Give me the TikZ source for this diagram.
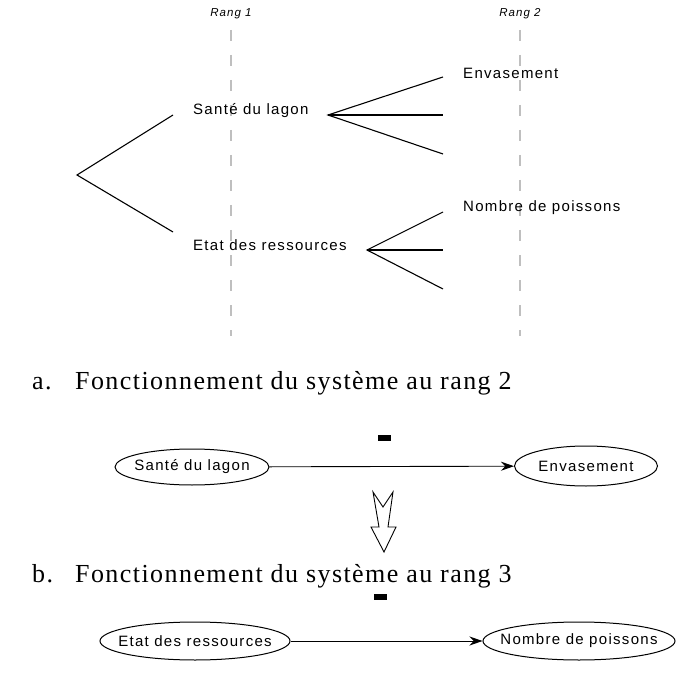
\documentclass[tikz,border=0pt]{standalone}
\usepackage{fontspec}
\usetikzlibrary{shapes.geometric,arrows.meta}
\newfontfamily\labfont[LetterSpace=8.7]{Liberation Sans}
\newfontfamily\rangfont[LetterSpace=9]{Liberation Sans}
\newfontfamily\capfont[LetterSpace=5.5]{Liberation Serif}
\newcommand{\zw}[1]{\makebox[0pt][c]{#1}}
\tikzset{
  lab/.style={inner sep=0pt, anchor=west, font=\labfont\fontsize{15}{18}\selectfont},
  ranglab/.style={inner sep=0pt, font=\rangfont\itshape\fontsize{11.5}{13}\selectfont},
  caplab/.style={inner sep=0pt, anchor=base west, font=\capfont\fontsize{26}{30}\selectfont},
  guide/.style={draw=black!25, line width=1.2pt, dash pattern=on 11pt off 14pt},
  branch/.style={line width=1.1pt},
  oval/.style={draw, ellipse, line width=1pt, inner sep=0pt, font=\labfont\fontsize{15}{18}\selectfont},
  link/.style={line width=0.9pt, -{Stealth[length=13pt,width=9pt]}},
  minusbar/.style={fill=black, draw=none}
}
\begin{document}
\begin{tikzpicture}[x=1pt,y=-1pt]
\useasboundingbox (0,0) rectangle (680,679);
% rank labels and guide lines
\node[ranglab] (r1) at (231,14) {Rang 1};
\node[ranglab] (r2) at (520,14) {Rang 2};
\coordinate (g1a) at (231,30); \coordinate (g1b) at (231,336);
\coordinate (g2a) at (520,30); \coordinate (g2b) at (520,336);
\draw[guide] (g1a) -- (g1b);
\draw[guide] (g2a) -- (g2b);
% tree
\coordinate (root) at (77,175);
\coordinate (sA) at (173,115);
\coordinate (eA) at (173,232);
\draw[branch] (sA) -- (root) -- (eA);
\node[lab] (sante) at (193,111) {Santé du lagon};
\node[lab] (etat) at (193,245) {Etat des ressources};
\coordinate (sF) at (328,115);
\coordinate (s1) at (443,77); \coordinate (s2) at (443,115); \coordinate (s3) at (443,154);
\draw[branch] (s1) -- (sF) -- (s3); \draw[branch] (sF) -- (s2);
\coordinate (eF) at (367,250);
\coordinate (e1) at (443,212); \coordinate (e2) at (443,250); \coordinate (e3) at (443,289);
\draw[branch] (e1) -- (eF) -- (e3); \draw[branch] (eF) -- (e2);
\node[lab] (envas) at (463,73) {Envasement};
\node[lab] (nombre) at (463,208) {Nombre de poissons};
% caption a
\node[caplab] (capa) at (32,389) {a.};
\node[caplab] (capat) at (75,389) {Fonctionnement du système au rang 2};
% rank 2 system
\node[oval, minimum width=154pt, minimum height=36pt] (o1) at (192,467) {\zw{Santé du lagon}};
\node[oval, minimum width=143pt, minimum height=40pt] (o2) at (586,466) {\zw{Envasement}};
\draw[link] (o1) -- (o2);
\fill[minusbar] (378,435) rectangle (391,441);
% hollow arrow
\draw[line width=0.9pt, fill=white] (373,492) -- (383,507) -- (393,492) -- (388,527) -- (396,527)
  -- (384,552) -- (371,527) -- (379,527) -- cycle;
% caption b
\node[caplab] (capb) at (32,582) {b.};
\node[caplab] (capbt) at (75,582) {Fonctionnement du système au rang 3};
% rank 3 system
\node[oval, minimum width=190pt, minimum height=38pt] (o3) at (195,641) {\zw{Etat des ressources}};
\node[oval, minimum width=192pt, minimum height=38pt] (o4) at (579,641) {\zw{Nombre de poissons}};
\draw[link] (o3) -- (o4);
\fill[minusbar] (374,594) rectangle (387,600);
\end{tikzpicture}
\end{document}
